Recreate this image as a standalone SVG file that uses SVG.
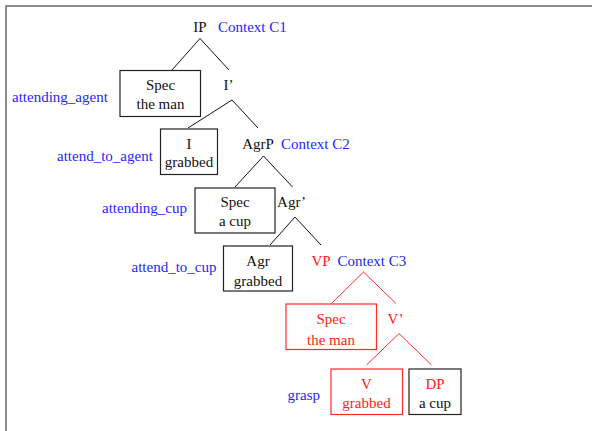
<svg xmlns="http://www.w3.org/2000/svg" width="592" height="431" viewBox="0 0 592 431">
  <style>
    text { font-family: "Liberation Serif", "Times New Roman", serif; font-size: 15px; }
    .k { fill: #111; }
    .r { fill: #ff1a1a; }
    .b { fill: #1f1fff; }
    .mid { text-anchor: middle; }
    .box { fill: #fff; stroke: #222; stroke-width: 1.2; }
    .rbox { fill: #fff; stroke: #ff2a2a; stroke-width: 1.2; }
    .edge { stroke: #111; stroke-width: 1; fill: none; }
    .redge { stroke: #ff2a2a; stroke-width: 1; fill: none; }
    .frame { stroke: #666; stroke-width: 1.5; fill: none; }
  </style>

  <!-- frame (top and left sides only) -->
  <path class="frame" d="M6,431 V6 H592"/>

  <!-- connectors -->
  <g id="connectors">
    <path class="edge" d="M172,70 L200,38.5 L229,70"/>
    <path class="edge" d="M188,128 L232,100 L258,128"/>
    <path class="edge" d="M235,187 L263.5,156 L292.5,187"/>
    <path class="edge" d="M270,245 L295,217 L321,245"/>
    <path class="redge" d="M331.5,303.5 L363.5,272 L396,303.5"/>
    <path class="redge" d="M366.5,365 L399,333.5 L431.5,365"/>
  </g>

  <!-- IP -->
  <g id="node-ip">
    <text class="k mid" x="200" y="32">IP</text>
    <text class="b" x="218" y="32">Context C1</text>
  </g>

  <!-- Spec: the man -->
  <g id="node-spec-ip">
    <rect class="box" x="120" y="70.5" width="80.5" height="46"/>
    <text class="k mid" x="160.5" y="90">Spec</text>
    <text class="k mid" x="160.5" y="109">the man</text>
    <text class="b" x="12" y="102">attending_agent</text>
  </g>

  <!-- I' -->
  <g id="node-ibar">
    <text class="k mid" x="228.5" y="90">I’</text>
  </g>

  <!-- I: grabbed -->
  <g id="node-i">
    <rect class="box" x="160.5" y="129" width="57" height="45.5"/>
    <text class="k mid" x="189" y="148.5">I</text>
    <text class="k mid" x="189" y="166.5">grabbed</text>
    <text class="b" x="57" y="161">attend_to_agent</text>
  </g>

  <!-- AgrP -->
  <g id="node-agrp">
    <text class="k mid" x="258" y="148.5">AgrP</text>
    <text class="b" x="281" y="148.5">Context C2</text>
  </g>

  <!-- Spec: a cup -->
  <g id="node-spec-agrp">
    <rect class="box" x="195" y="188" width="80" height="45"/>
    <text class="k mid" x="235" y="207">Spec</text>
    <text class="k mid" x="235" y="226">a cup</text>
    <text class="b" x="102" y="213">attending_cup</text>
  </g>

  <!-- Agr' -->
  <g id="node-agrbar">
    <text class="k mid" x="291.5" y="207">Agr’</text>
  </g>

  <!-- Agr: grabbed -->
  <g id="node-agr">
    <rect class="box" x="223.5" y="246" width="69" height="45"/>
    <text class="k mid" x="258" y="266">Agr</text>
    <text class="k mid" x="258" y="285.5">grabbed</text>
    <text class="b" x="131.5" y="272">attend_to_cup</text>
  </g>

  <!-- VP -->
  <g id="node-vp">
    <text class="r mid" x="321" y="266">VP</text>
    <text class="b" x="337.5" y="266">Context C3</text>
  </g>

  <!-- Spec: the man (VP) -->
  <g id="node-spec-vp">
    <rect class="rbox" x="286" y="304" width="90.5" height="45.5"/>
    <text class="r mid" x="331" y="324">Spec</text>
    <text class="r mid" x="331" y="344.5">the man</text>
  </g>

  <!-- V' -->
  <g id="node-vbar">
    <text class="r mid" x="395.5" y="324">V’</text>
  </g>

  <!-- V: grabbed -->
  <g id="node-v">
    <rect class="rbox" x="331" y="369" width="71.5" height="45.5"/>
    <text class="r mid" x="366.5" y="388.5">V</text>
    <text class="r mid" x="366.5" y="408">grabbed</text>
    <text class="b" x="287.5" y="400">grasp</text>
  </g>

  <!-- DP: a cup -->
  <g id="node-dp">
    <rect class="box" x="409" y="369" width="52" height="45.5"/>
    <text class="r mid" x="435" y="388.5">DP</text>
    <text class="k mid" x="435" y="408">a cup</text>
  </g>
</svg>
